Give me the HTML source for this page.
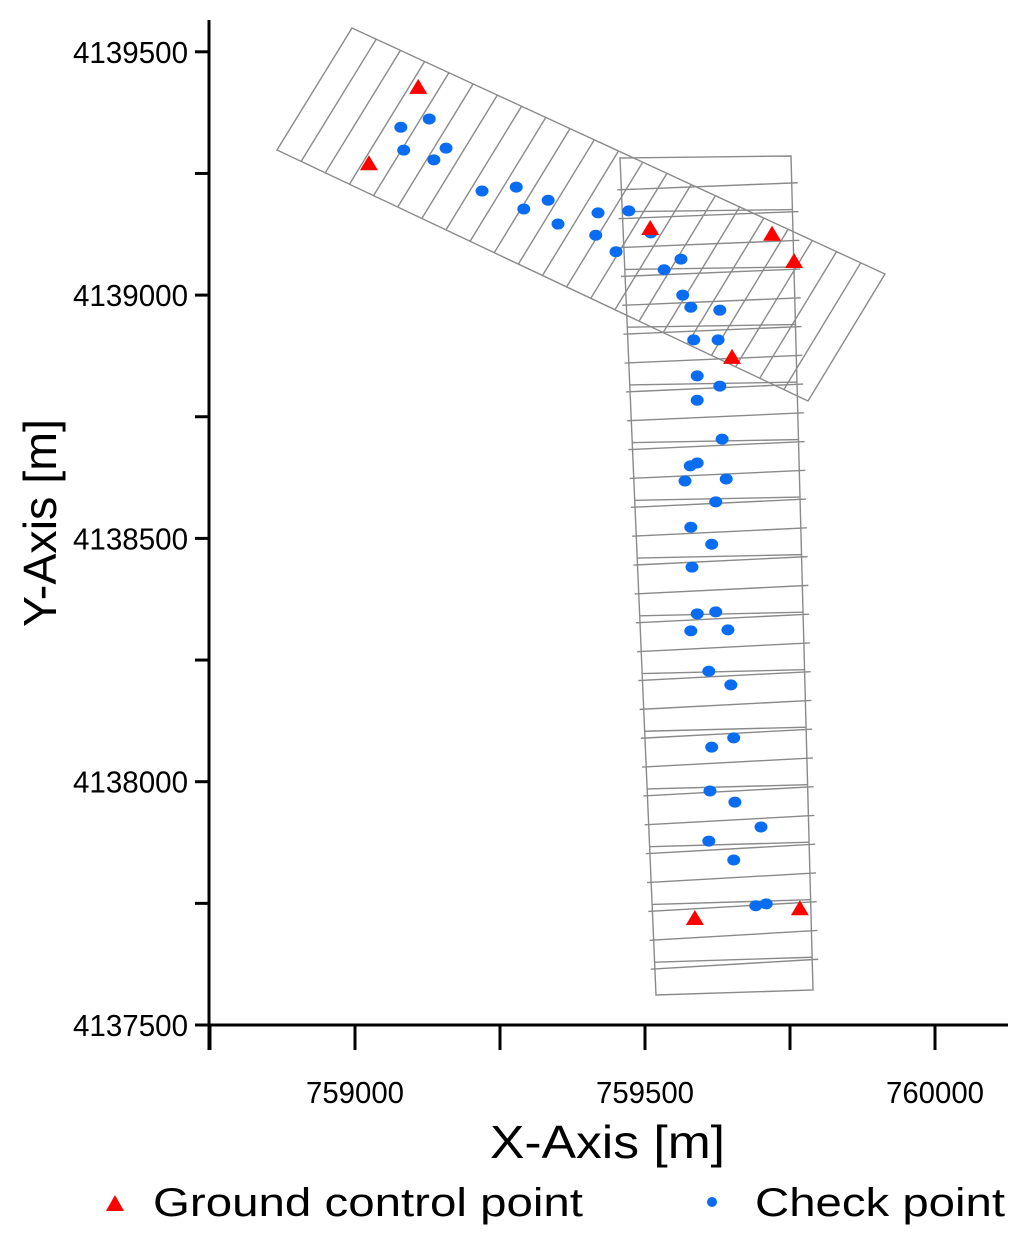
<!DOCTYPE html>
<html><head><meta charset="utf-8"><style>
html,body{margin:0;padding:0;background:#fff;}
svg{display:block;font-family:"Liberation Sans",sans-serif;}
</style></head><body>
<svg id="chart" width="1024" height="1241" viewBox="0 0 1024 1241" xmlns="http://www.w3.org/2000/svg">
<g id="strips" fill="none" stroke="#8a8a8a" stroke-width="1.4"></g>
<g id="axes"></g>
<g id="marks"></g>
<text x="490" y="1158" font-size="46" textLength="235" lengthAdjust="spacingAndGlyphs">X-Axis [m]</text>
<text transform="translate(56,523) rotate(-90)" font-size="46" text-anchor="middle" textLength="208" lengthAdjust="spacingAndGlyphs">Y-Axis [m]</text>
<g>
<polygon points="106,1211 115,1195 124,1211" fill="#f00"/>
<text x="153" y="1216" font-size="40" textLength="430" lengthAdjust="spacingAndGlyphs">Ground control point</text>
<circle cx="712" cy="1202" r="5" fill="#0a6cf0"/>
<text x="755" y="1216" font-size="40" textLength="250" lengthAdjust="spacingAndGlyphs">Check point</text>
</g>
</svg>
<script>
const xTicks=[758750,759000,759250,759500,759750,760000];
const xLabels=["759000","759500","760000"];
const yTicks=[4137500,4137750,4138000,4138250,4138500,4138750,4139000,4139250,4139500];
const yLabels=["4137500","4138000","4138500","4139000","4139500"];
const gcpX=[759109,759024,759509,759719,759757,759650,759586,759767];
const gcpY=[4139428,4139271,4139138,4139126,4139070,4138873,4137720,4137740];
const chkX=[759079,759128,759084,759136,759157,759219,759278,759291,759333,759350,759419,759415,759472,759450,759510,759533,759562,759565,759579,759629,759584,759626,759590,759629,759590,759633,759590,759578,759569,759640,759622,759579,759615,759581,759590,759622,759579,759643,759610,759648,759615,759653,759612,759655,759700,759610,759653,759691,759709];
const chkY=[4139345,4139362,4139298,4139278,4139302,4139214,4139222,4139177,4139195,4139146,4139169,4139123,4139173,4139089,4139128,4139052,4139074,4139000,4138975,4138969,4138908,4138908,4138834,4138813,4138784,4138704,4138655,4138649,4138618,4138622,4138575,4138523,4138488,4138441,4138345,4138349,4138310,4138312,4138227,4138199,4138071,4138090,4137981,4137958,4137907,4137878,4137839,4137745,4137749];
const NS="http://www.w3.org/2000/svg";
const sx=v=>355+(v-759000)*0.58;
const sy=v=>1025-(v-4137500)*0.4866;
function mk(tag,attrs,parent){const e=document.createElementNS(NS,tag);for(const k in attrs)e.setAttribute(k,attrs[k]);parent.appendChild(e);return e;}
const axes=document.getElementById('axes'),marks=document.getElementById('marks'),strips=document.getElementById('strips');
let e=mk('polygon',{points:"352,28 885,274 808,401 277,150"},strips);

for(let i=1;i<22;i++){const t=i/22;const x1=352+533*t,y1=28+246*t,x2=277+531*t,y2=150+251*t;
 e=mk('line',{x1:x1,y1:y1,x2:x2,y2:y2},strips);
 }
e=mk('polygon',{points:"620,158 791,156 813,990 656,995"},strips);

for(let i=1;i<29;i++){const t=i/29;const lx=620+36*t,rx=791+22*t,ly=158+837*t,ry=156+834*t;
 e=mk('line',{x1:lx-4,y1:ly+3,x2:rx+6,y2:ry-2},strips);
 
 if(i%2==0){e=mk('line',{x1:lx,y1:ly-4,x2:rx,y2:ry-4},strips);
 }}
e=mk('line',{x1:209,y1:20,x2:209,y2:1050,stroke:'#000','stroke-width':3},axes);

e=mk('line',{x1:195,y1:1025,x2:1008,y2:1025,stroke:'#000','stroke-width':3},axes);

xTicks.forEach(v=>{const x=sx(v);
 e=mk('line',{x1:x,y1:1025,x2:x,y2:1050,stroke:'#000','stroke-width':3},axes);
 });
xLabels.forEach(l=>{e=mk('text',{x:sx(+l)-49,y:1103,'font-size':31,textLength:98,lengthAdjust:'spacingAndGlyphs'},axes);e.textContent=l;
 });
yTicks.forEach(v=>{const y=sy(v);
 e=mk('line',{x1:195,y1:y,x2:209,y2:y,stroke:'#000','stroke-width':3},axes);
 });
yLabels.forEach(l=>{e=mk('text',{x:73,y:sy(+l)+11,'font-size':31,textLength:115,lengthAdjust:'spacingAndGlyphs'},axes);e.textContent=l;
 });
chkX.forEach((v,i)=>{e=mk('ellipse',{cx:sx(v),cy:sy(chkY[i]),rx:6.5,ry:5.5,fill:'#0a6cf0'},marks);
 });
gcpX.forEach((v,i)=>{const x=sx(v),y=sy(gcpY[i]);
 e=mk('polygon',{points:`${x-9},${y+7} ${x},${y-8} ${x+9},${y+7}`,fill:'#f00'},marks);
 });
</script>
</body></html>
